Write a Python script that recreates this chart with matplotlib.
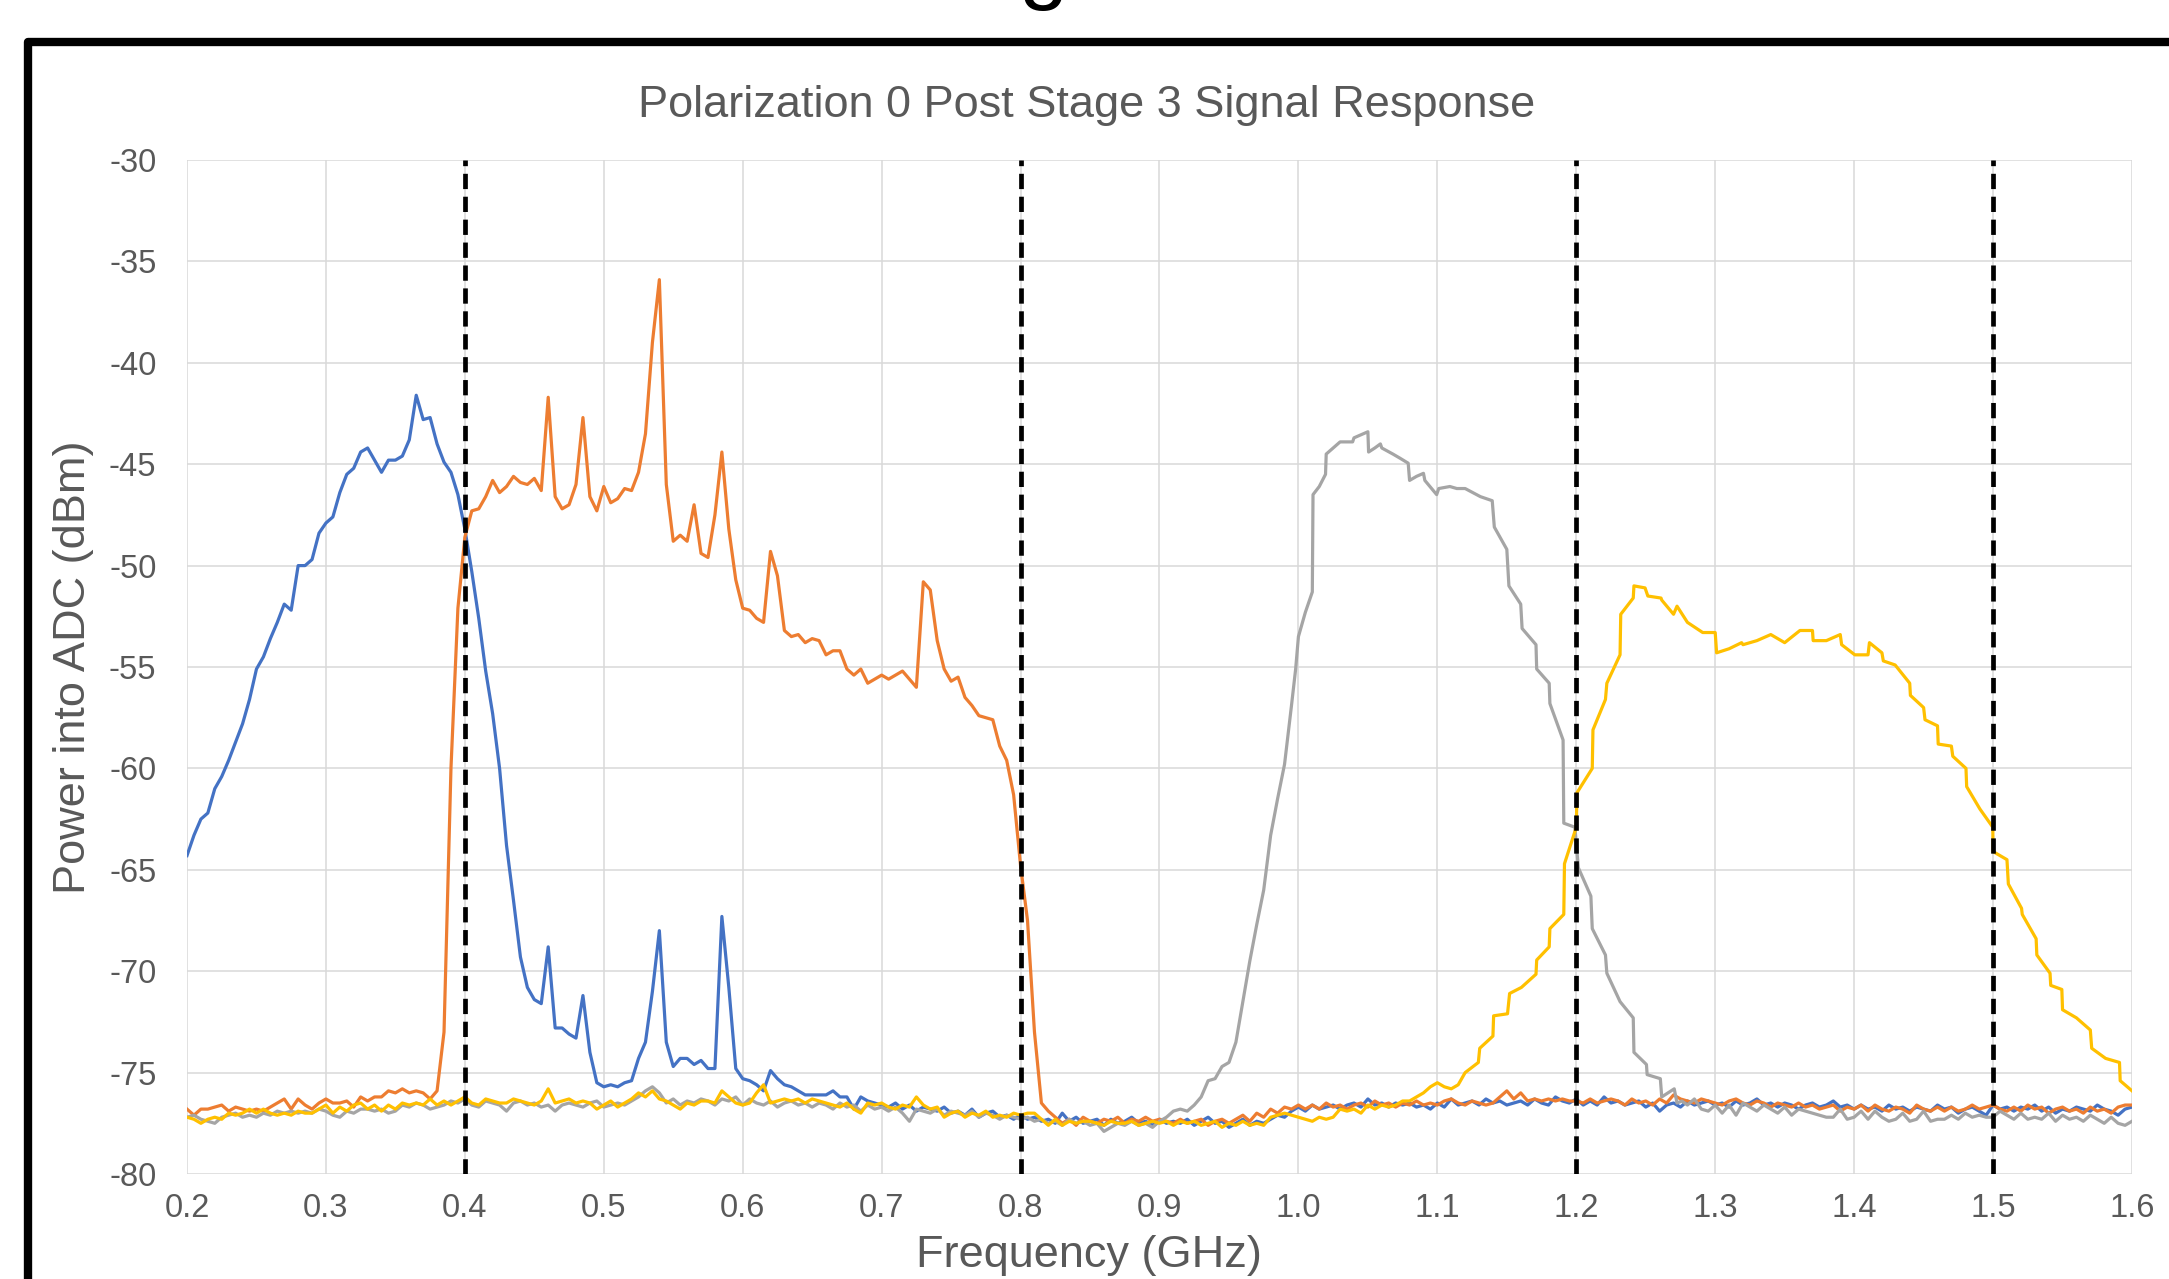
"""Polarization 0 post stage 3 signal response, four filter bands on one ADC."""

import matplotlib

matplotlib.use("Agg")
import matplotlib.pyplot as plt
import numpy as np
from matplotlib.lines import Line2D

FREQ_START = 0.2
FREQ_STEP = 0.005

# blue band, sampled every 5 MHz from 0.200 GHz to 1.600 GHz
blue_power = [
    -64.3, -63.3, -62.5, -62.2, -61.0, -60.4, -59.6, -58.7, -57.8, -56.6, -55.1, -54.5, -53.6, -52.8, -51.9, -52.2, -50.0, -50.0, -49.7, -48.4,
    -47.9, -47.6, -46.4, -45.5, -45.2, -44.4, -44.2, -44.8, -45.4, -44.8, -44.8, -44.6, -43.8, -41.6, -42.8, -42.7, -44.0, -44.9, -45.4, -46.5,
    -48.2, -50.3, -52.6, -55.2, -57.3, -60.0, -63.8, -66.5, -69.3, -70.8, -71.4, -71.6, -68.8, -72.8, -72.8, -73.1, -73.3, -71.2, -74.0, -75.5,
    -75.7, -75.6, -75.7, -75.5, -75.4, -74.3, -73.5, -71.0, -68.0, -73.5, -74.7, -74.3, -74.3, -74.6, -74.4, -74.8, -74.8, -67.3, -70.8, -74.8,
    -75.3, -75.4, -75.6, -75.9, -74.9, -75.3, -75.6, -75.7, -75.9, -76.1, -76.1, -76.1, -76.1, -75.9, -76.2, -76.2, -76.8, -76.2, -76.4, -76.5,
    -76.6, -76.7, -76.5, -76.8, -76.6, -76.9, -76.7, -76.8, -76.9, -76.7, -77.0, -76.9, -77.1, -76.8, -77.2, -77.0, -76.9, -77.2, -77.1, -77.3,
    -77.1, -77.3, -77.2, -77.4, -77.3, -77.5, -77.0, -77.4, -77.2, -77.5, -77.4, -77.3, -77.6, -77.3, -77.5, -77.4, -77.2, -77.5, -77.4, -77.6,
    -77.3, -77.5, -77.4, -77.5, -77.3, -77.6, -77.4, -77.2, -77.5, -77.4, -77.7, -77.5, -77.3, -77.6, -77.4, -77.5, -77.3, -77.1, -77.2, -76.9,
    -76.7, -76.9, -76.6, -76.8, -76.7, -76.6, -76.8, -76.6, -76.5, -76.7, -76.3, -76.6, -76.5, -76.7, -76.5, -76.6, -76.5, -76.7, -76.6, -76.8,
    -76.5, -76.7, -76.3, -76.6, -76.5, -76.4, -76.6, -76.3, -76.5, -76.4, -76.6, -76.5, -76.4, -76.6, -76.3, -76.5, -76.6, -76.2, -76.4, -76.5,
    -76.3, -76.6, -76.4, -76.6, -76.2, -76.5, -76.4, -76.6, -76.5, -76.4, -76.7, -76.5, -76.9, -76.6, -76.5, -76.7, -76.4, -76.6, -76.5, -76.4,
    -76.6, -76.5, -76.7, -76.4, -76.6, -76.5, -76.3, -76.6, -76.5, -76.7, -76.5, -76.6, -76.8, -76.6, -76.5, -76.7, -76.6, -76.4, -76.7, -76.6,
    -76.8, -76.6, -76.8, -76.7, -76.9, -76.6, -76.8, -76.7, -76.9, -76.7, -76.8, -76.9, -76.6, -76.8, -76.7, -77.0, -76.8, -76.7, -76.9, -77.1,
    -76.6, -76.8, -76.7, -76.9, -76.7, -76.8, -76.6, -76.9, -76.7, -77.0, -76.8, -76.9, -76.7, -76.8, -76.9, -76.6, -76.8, -76.9, -77.1, -76.8,
    -76.7,
]

# orange band, same 5 MHz grid
orange_power = [
    -76.8, -77.1, -76.8, -76.8, -76.7, -76.6, -76.9, -76.7, -76.8, -76.9, -76.8, -76.9, -76.7, -76.5, -76.3, -76.8, -76.3, -76.6, -76.8, -76.5,
    -76.3, -76.5, -76.5, -76.4, -76.7, -76.2, -76.4, -76.2, -76.2, -75.9, -76.0, -75.8, -76.0, -75.9, -76.0, -76.3, -75.9, -73.0, -60.0, -52.1,
    -48.6, -47.3, -47.2, -46.6, -45.8, -46.4, -46.1, -45.6, -45.9, -46.0, -45.7, -46.3, -41.7, -46.6, -47.2, -47.0, -46.0, -42.7, -46.6, -47.3,
    -46.1, -46.9, -46.7, -46.2, -46.3, -45.4, -43.5, -39.0, -35.9, -46.0, -48.8, -48.5, -48.8, -47.0, -49.4, -49.6, -47.5, -44.4, -48.2, -50.7,
    -52.1, -52.2, -52.6, -52.8, -49.3, -50.5, -53.2, -53.5, -53.4, -53.8, -53.6, -53.7, -54.4, -54.2, -54.2, -55.1, -55.4, -55.1, -55.8, -55.6,
    -55.4, -55.6, -55.4, -55.2, -55.6, -56.0, -50.8, -51.2, -53.7, -55.1, -55.7, -55.5, -56.5, -56.9, -57.4, -57.5, -57.6, -58.9, -59.6, -61.3,
    -64.8, -67.5, -73.0, -76.5, -76.9, -77.2, -77.5, -77.3, -77.6, -77.2, -77.4, -77.5, -77.3, -77.4, -77.2, -77.5, -77.3, -77.4, -77.2, -77.4,
    -77.3, -77.4, -77.5, -77.3, -77.5, -77.4, -77.3, -77.6, -77.4, -77.3, -77.5, -77.3, -77.1, -77.4, -77.0, -77.2, -76.8, -77.0, -76.7, -76.8,
    -76.6, -76.8, -76.6, -76.8, -76.5, -76.7, -76.6, -76.8, -76.6, -76.5, -76.7, -76.4, -76.6, -76.5, -76.7, -76.5, -76.6, -76.4, -76.6, -76.5,
    -76.6, -76.4, -76.3, -76.5, -76.6, -76.4, -76.5, -76.6, -76.5, -76.2, -75.9, -76.3, -76.0, -76.4, -76.3, -76.4, -76.3, -76.4, -76.3, -76.4,
    -76.4, -76.5, -76.3, -76.5, -76.4, -76.3, -76.4, -76.6, -76.3, -76.5, -76.4, -76.6, -76.3, -76.5, -76.1, -76.3, -76.4, -76.5, -76.3, -76.4,
    -76.5, -76.6, -76.4, -76.3, -76.5, -76.6, -76.4, -76.5, -76.7, -76.5, -76.6, -76.7, -76.5, -76.7, -76.6, -76.8, -76.7, -76.6, -76.9, -76.7,
    -76.8, -76.6, -76.9, -76.6, -76.8, -76.9, -76.7, -76.8, -77.0, -76.6, -76.8, -76.9, -76.7, -76.9, -76.7, -76.9, -76.8, -76.6, -76.8, -76.7,
    -76.6, -76.8, -76.9, -76.7, -76.9, -76.6, -76.8, -76.7, -77.0, -76.8, -76.7, -76.9, -76.8, -77.0, -76.7, -76.9, -76.8, -77.0, -76.7, -76.6,
    -76.6,
]

# gray band: 5 MHz floor up to 0.905 GHz, the passband as read, then 5 MHz floor from 1.280 GHz
gray_floor_lo = [
    -77.2, -77.1, -77.3, -77.4, -77.5, -77.2, -77.1, -77.0, -77.2, -77.1, -77.2, -77.0, -77.1, -76.9, -77.0, -76.9, -77.0, -76.9, -77.0, -76.8,
    -76.9, -77.1, -77.2, -76.9, -77.0, -76.8, -76.8, -76.9, -76.8, -77.0, -76.9, -76.6, -76.7, -76.5, -76.6, -76.8, -76.7, -76.6, -76.4, -76.5,
    -76.3, -76.6, -76.7, -76.4, -76.5, -76.6, -76.9, -76.5, -76.4, -76.6, -76.5, -76.7, -76.6, -76.9, -76.6, -76.5, -76.6, -76.7, -76.5, -76.4,
    -76.7, -76.6, -76.5, -76.6, -76.4, -76.2, -75.9, -75.7, -76.0, -76.5, -76.3, -76.6, -76.4, -76.5, -76.3, -76.4, -76.6, -76.3, -76.4, -76.2,
    -76.6, -76.3, -76.5, -76.6, -76.4, -76.7, -76.5, -76.4, -76.6, -76.5, -76.7, -76.5, -76.6, -76.8, -76.5, -76.7, -76.6, -76.9, -76.6, -76.8,
    -76.7, -76.9, -76.7, -77.0, -77.4, -76.8, -76.9, -77.0, -76.8, -77.1, -76.9, -77.0, -77.1, -76.9, -77.2, -77.0, -77.1, -77.3, -77.1, -77.2,
    -77.3, -77.2, -77.4, -77.3, -77.5, -77.4, -77.6, -77.3, -77.5, -77.4, -77.6, -77.5, -77.9, -77.7, -77.5, -77.6, -77.4, -77.6, -77.5, -77.7,
    -77.4, -77.2,
]
gray_band_freq = [
    0.910, 0.915, 0.920, 0.925, 0.930, 0.935, 0.940, 0.945, 0.950, 0.955, 0.960, 0.965, 0.970, 0.975, 0.980, 0.985,
    0.990, 0.995, 0.998, 1.000, 1.005, 1.010, 1.0105, 1.015, 1.0195, 1.020, 1.025, 1.030, 1.039, 1.040, 1.050, 1.0505,
    1.055, 1.059, 1.060, 1.068, 1.073, 1.079, 1.080, 1.085, 1.090, 1.091, 1.0995, 1.101, 1.109, 1.114, 1.120, 1.131,
    1.1395, 1.141, 1.150, 1.1515, 1.160, 1.161, 1.171, 1.1715, 1.1805, 1.181, 1.1905, 1.191, 1.199, 1.2015, 1.2105, 1.2115,
    1.221, 1.222, 1.2315, 1.241, 1.2415, 1.2505, 1.251, 1.2605, 1.2615, 1.2705, 1.2725, 1.276,
]
gray_band_power = [
    -76.9, -76.8, -76.9, -76.6, -76.2, -75.4, -75.3, -74.7, -74.5, -73.5, -71.5, -69.5, -67.7, -66.0, -63.3, -61.5,
    -59.8, -56.9, -55.1, -53.5, -52.3, -51.3, -46.5, -46.1, -45.5, -44.5, -44.2, -43.9, -43.9, -43.7, -43.4, -44.4,
    -44.2, -44.0, -44.2, -44.5, -44.7, -44.95, -45.8, -45.6, -45.45, -45.8, -46.5, -46.2, -46.1, -46.2, -46.2, -46.6,
    -46.8, -48.1, -49.2, -51.0, -51.9, -53.1, -53.9, -55.1, -55.8, -56.8, -58.6, -62.7, -62.9, -64.9, -66.3, -67.9,
    -69.2, -70.1, -71.5, -72.3, -74.0, -74.6, -75.1, -75.3, -76.2, -75.8, -76.5, -76.4,
]
GRAY_FLOOR_HI_START = 1.28
gray_floor_hi = [
    -76.6, -76.3, -76.8, -76.9, -76.6, -77.0, -76.6, -77.1, -76.5, -76.7, -76.9, -76.6, -76.8, -77.0, -76.7, -77.1, -76.8, -76.9, -77.0, -77.1,
    -77.2, -77.2, -76.8, -77.3, -77.2, -76.9, -77.3, -76.9, -77.2, -77.4, -77.3, -77.0, -77.4, -77.3, -76.9, -77.4, -77.3, -77.3, -77.1, -77.3,
    -77.0, -77.2, -77.1, -77.2, -77.2, -76.9, -77.1, -77.3, -77.0, -77.3, -77.2, -77.3, -77.0, -77.4, -77.1, -77.3, -77.2, -77.4, -77.1, -77.3,
    -77.5, -77.2, -77.5, -77.6, -77.4,
]

# yellow band: 5 MHz floor up to 1.115 GHz, then the passband as read
yellow_floor_lo = [
    -77.2, -77.3, -77.5, -77.3, -77.2, -77.3, -77.0, -77.1, -77.0, -76.8, -77.0, -76.8, -77.0, -77.1, -77.0, -77.1, -76.9, -77.0, -77.0, -76.8,
    -76.6, -77.0, -76.7, -76.9, -76.6, -76.5, -76.8, -76.6, -76.9, -76.6, -76.8, -76.5, -76.6, -76.5, -76.6, -76.3, -76.6, -76.4, -76.6, -76.4,
    -76.2, -76.5, -76.6, -76.3, -76.4, -76.5, -76.5, -76.3, -76.4, -76.5, -76.6, -76.4, -75.8, -76.5, -76.4, -76.3, -76.5, -76.4, -76.5, -76.8,
    -76.6, -76.4, -76.7, -76.5, -76.3, -76.0, -76.2, -75.9, -76.3, -76.4, -76.6, -76.8, -76.5, -76.6, -76.4, -76.4, -76.5, -75.9, -76.2, -76.5,
    -76.6, -76.5, -76.0, -75.6, -76.5, -76.4, -76.3, -76.4, -76.3, -76.5, -76.3, -76.4, -76.5, -76.6, -76.7, -76.5, -76.8, -77.0, -76.5, -76.6,
    -76.5, -76.7, -76.8, -76.6, -76.7, -76.2, -76.6, -76.8, -76.7, -77.2, -77.0, -76.9, -77.2, -77.0, -77.1, -76.9, -77.2, -77.1, -77.2, -77.0,
    -77.1, -77.0, -77.0, -77.3, -77.6, -77.3, -77.6, -77.4, -77.5, -77.4, -77.4, -77.5, -77.6, -77.4, -77.5, -77.5, -77.4, -77.6, -77.5, -77.4,
    -77.5, -77.4, -77.6, -77.4, -77.5, -77.4, -77.6, -77.5, -77.4, -77.7, -77.5, -77.6, -77.4, -77.6, -77.5, -77.6, -77.2, -77.1, -77.0, -77.1,
    -77.2, -77.3, -77.4, -77.2, -77.3, -77.2, -76.8, -76.9, -76.8, -77.0, -76.6, -76.8, -76.6, -76.7, -76.6, -76.4, -76.4, -76.2, -76.0, -75.7,
    -75.5, -75.7, -75.8, -75.6,
]
yellow_band_freq = [
    1.120, 1.1295, 1.1305, 1.140, 1.1405, 1.1505, 1.152, 1.1605, 1.171, 1.1715, 1.1805, 1.181, 1.191, 1.1915, 1.200, 1.2005,
    1.2115, 1.212, 1.221, 1.222, 1.2315, 1.232, 1.241, 1.2415, 1.2495, 1.2515, 1.261, 1.2615, 1.270, 1.2725, 1.280, 1.291,
    1.300, 1.301, 1.310, 1.319, 1.320, 1.330, 1.340, 1.350, 1.361, 1.370, 1.3705, 1.380, 1.390, 1.391, 1.4005, 1.410,
    1.411, 1.420, 1.421, 1.4295, 1.440, 1.4405, 1.450, 1.451, 1.460, 1.4605, 1.470, 1.471, 1.4805, 1.481, 1.4905, 1.4998,
    1.500, 1.510, 1.511, 1.5205, 1.521, 1.531, 1.5315, 1.541, 1.5415, 1.5495, 1.550, 1.560, 1.570, 1.571, 1.581, 1.591,
    1.5915, 1.600,
]
yellow_band_power = [
    -75.0, -74.5, -73.8, -73.2, -72.2, -72.1, -71.1, -70.8, -70.15, -69.45, -68.8, -67.9, -67.2, -64.7, -62.9, -61.2,
    -60.0, -58.1, -56.6, -55.8, -54.4, -52.4, -51.6, -51.0, -51.1, -51.5, -51.6, -51.7, -52.4, -52.0, -52.8, -53.3,
    -53.3, -54.3, -54.1, -53.8, -53.9, -53.7, -53.4, -53.8, -53.2, -53.2, -53.7, -53.7, -53.4, -53.9, -54.4, -54.4,
    -53.8, -54.3, -54.7, -54.9, -55.8, -56.4, -57.0, -57.6, -57.9, -58.8, -58.9, -59.4, -60.0, -60.9, -62.0, -62.9,
    -64.1, -64.5, -65.7, -66.9, -67.2, -68.4, -69.2, -70.1, -70.7, -70.9, -71.9, -72.3, -72.9, -73.8, -74.3, -74.5,
    -75.4, -75.9,
]

band_edges = [0.4, 0.8, 1.2, 1.5]
x_ticks = [0.2, 0.3, 0.4, 0.5, 0.6, 0.7, 0.8, 0.9, 1.0, 1.1, 1.2, 1.3, 1.4, 1.5, 1.6]
y_ticks = [-80, -75, -70, -65, -60, -55, -50, -45, -40, -35, -30]

COLORS = {"blue": "#4472C4", "orange": "#ED7D31", "gray": "#A5A5A5", "yellow": "#FFC000"}
TEXT = "#595959"


def grid_freq(start, n):
    return start + FREQ_STEP * np.arange(n)


def main() -> None:
    plt.rcParams["font.family"] = ["Liberation Sans", "DejaVu Sans"]
    plt.rcParams["lines.scale_dashes"] = False
    plt.rcParams["axes.unicode_minus"] = False

    W, H = 2169, 1279
    fig = plt.figure(figsize=(W / 100, H / 100), dpi=100)
    ax = fig.add_axes([187 / W, 1 - 1174 / H, (2132 - 187) / W, (1174 - 160) / H])

    blue_freq = grid_freq(FREQ_START, len(blue_power))
    orange_freq = grid_freq(FREQ_START, len(orange_power))
    gray_freq = np.concatenate([
        grid_freq(FREQ_START, len(gray_floor_lo)),
        gray_band_freq,
        grid_freq(GRAY_FLOOR_HI_START, len(gray_floor_hi)),
    ])
    gray_power = np.concatenate([gray_floor_lo, gray_band_power, gray_floor_hi])
    yellow_freq = np.concatenate([grid_freq(FREQ_START, len(yellow_floor_lo)), yellow_band_freq])
    yellow_power = np.concatenate([yellow_floor_lo, yellow_band_power])

    lw = 2.3
    ax.plot(blue_freq, blue_power, color=COLORS["blue"], lw=lw, zorder=3)
    ax.plot(orange_freq, orange_power, color=COLORS["orange"], lw=lw, zorder=3)
    ax.plot(gray_freq, gray_power, color=COLORS["gray"], lw=lw, zorder=3)
    ax.plot(yellow_freq, yellow_power, color=COLORS["yellow"], lw=lw, zorder=3)

    for edge in band_edges:
        ax.axvline(edge, color="black", lw=3.4, dashes=(11, 5.5), zorder=4)

    ax.set_xlim(0.2, 1.6)
    ax.set_ylim(-80, -30)
    ax.set_xticks(x_ticks)
    ax.set_xticklabels([f"{t:.1f}" for t in x_ticks])
    ax.set_yticks(y_ticks)
    ax.grid(True, color="#D9D9D9", lw=1.1, zorder=0)
    ax.set_axisbelow(True)
    for s in ax.spines.values():
        s.set_visible(False)
    ax.tick_params(length=0, labelsize=23.5, colors=TEXT, pad=14)
    ax.tick_params(axis="y", pad=22)
    ax.set_ylabel("Power into ADC (dBm)", fontsize=32.5, color=TEXT, labelpad=11)

    # x label and title are centred on the chart area, not on the plot area
    fig.text(1089 / W, 1 - 1256 / H, "Frequency (GHz)", fontsize=32.5, color=TEXT, ha="center", va="center")
    fig.text(1087 / W, 1 - 105 / H, "Polarization 0 Post Stage 3 Signal Response",
             fontsize=32.5, color=TEXT, ha="center", va="center")

    # slide frame and the clipped slide title above it
    frame = Line2D([27.5 / W, 27.5 / W, 1.02], [-0.02, 1 - 41.5 / H, 1 - 41.5 / H],
                   transform=fig.transFigure, color="black", lw=6, solid_joinstyle="round")
    fig.add_artist(frame)
    fig.text(1043 / W, 1 + 8 / H, "g", fontsize=64, color="black", ha="center", va="baseline")

    fig.savefig("out.png", dpi=100)
    plt.close(fig)


if __name__ == "__main__":
    main()
